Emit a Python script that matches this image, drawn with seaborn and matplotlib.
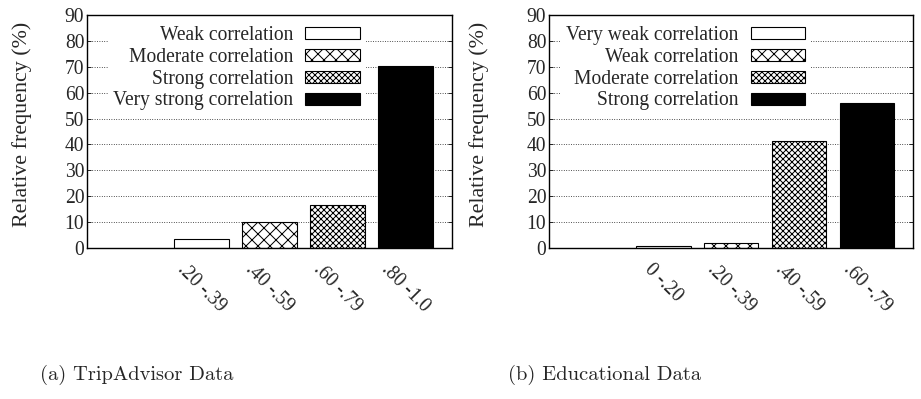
import matplotlib
matplotlib.use("Agg")
import matplotlib.pyplot as plt
import seaborn as sns
import pandas as pd

# ── Data ────────────────────────────────────────────────
trip_bins   = [".20 -.39", ".40 -.59", ".60 -.79", ".80 -1.0"]
trip_vals   = [3.5, 10.0, 16.7, 70.1]
trip_labels = ["Weak correlation", "Moderate correlation",
               "Strong correlation", "Very strong correlation"]

edu_bins   = ["0 -.20", ".20 -.39", ".40 -.59", ".60 -.79"]
edu_vals   = [1.0, 1.9, 41.2, 56.1]
edu_labels = ["Very weak correlation", "Weak correlation",
              "Moderate correlation", "Strong correlation"]

y_ticks = list(range(0, 100, 10))

# ── Style ───────────────────────────────────────────────
FACES   = ["white", "white", "white", "black"]
HATCHES = ["", "xx", "xxxx", ""]
FS = 19.5

sns.set_theme(style="white")
plt.rcParams["font.family"] = ["Liberation Serif", "DejaVu Serif"]
plt.rcParams["hatch.linewidth"] = 1.0
plt.rcParams["hatch.color"] = "black"

DPI = 72
fig = plt.figure(figsize=(921 / DPI, 399 / DPI), dpi=DPI)
fig.patch.set_facecolor("white")

ax_a = fig.add_axes([87.3 / 921, 150.7 / 399, 364.4 / 921, 233.6 / 399])
ax_b = fig.add_axes([549.3 / 921, 150.7 / 399, 364.0 / 921, 233.6 / 399])


def draw(ax, bins, vals, labels, leg_x, ylab_x):
    df = pd.DataFrame({"bin": bins, "val": vals})
    sns.barplot(data=df, x="bin", y="val", hue="bin", palette=FACES,
                width=0.8, edgecolor="black", linewidth=1.1,
                legend=False, ax=ax)
    for p, h in zip(ax.patches, HATCHES):
        p.set_hatch(h)
    ax.set_xlim(-1.68, 3.68)
    ax.set_ylim(0, 90)
    ax.set_yticks(y_ticks)
    ax.set_yticklabels([str(t) for t in y_ticks], fontsize=FS)
    ax.set_xticks(range(len(bins)))
    ax.set_xticklabels(bins, rotation=-45, ha="center", va="top", fontsize=FS)
    ax.tick_params(axis="x", length=0, pad=12)
    ax.tick_params(axis="y", direction="in", length=4, pad=3,
                   left=True, right=True, width=1)
    ax.set_xlabel("")
    ax.set_ylabel("Relative frequency (%)", fontsize=22)
    ax.yaxis.set_label_coords(ylab_x, 0.53)
    ax.grid(axis="y", color="black", linestyle=(0, (1, 2)), linewidth=0.8)
    ax.set_axisbelow(True)
    for s in ax.spines.values():
        s.set_visible(True)
        s.set_color("black")
        s.set_linewidth(1.4)
    leg = ax.legend(handles=ax.patches[:len(labels)], labels=labels,
                    loc="upper right", bbox_to_anchor=(leg_x, 0.978),
                    markerfirst=False, frameon=True, fontsize=FS,
                    handlelength=2.8, handleheight=0.56, handletextpad=0.6,
                    labelspacing=0.15, borderpad=0.3, borderaxespad=0.0,
                    fancybox=False)
    leg.get_frame().set_edgecolor("none")
    leg.get_frame().set_facecolor("white")
    leg.get_frame().set_alpha(1.0)


draw(ax_a, trip_bins, trip_vals, trip_labels, 0.764, -0.152)
draw(ax_b, edu_bins, edu_vals, edu_labels, 0.719, -0.165)

fig.text(40 / 921, 1 - 375 / 399, "(a) TripAdvisor Data", fontsize=20.5,
         family="cmr10", va="center", ha="left")
fig.text(508 / 921, 1 - 375 / 399, "(b) Educational Data", fontsize=20.5,
         family="cmr10", va="center", ha="left")

fig.savefig("out.png", dpi=DPI, facecolor="white")
